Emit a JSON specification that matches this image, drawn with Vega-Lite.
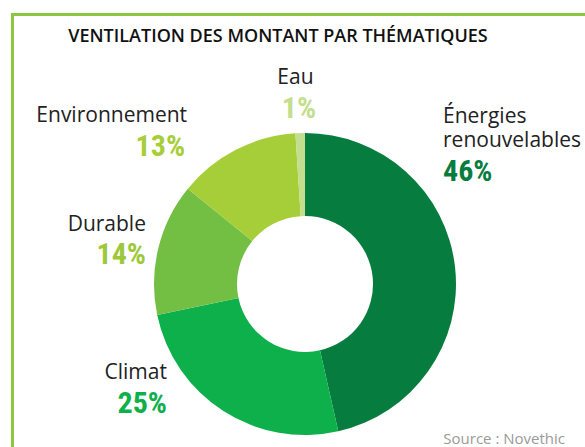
{
  "$schema": "https://vega.github.io/schema/vega-lite/v6.json",
  "width": 560,
  "height": 326,
  "autosize": "none",
  "padding": {"left": 25, "top": 121, "right": 0, "bottom": 0},
  "background": "white",
  "config": {"view": {"stroke": null}},
  "datasets": {
    "themes": [
      {"theme": "Énergies renouvelables", "valeur": 46, "pct": "46%"},
      {"theme": "Climat", "valeur": 25, "pct": "25%"},
      {"theme": "Durable", "valeur": 14, "pct": "14%"},
      {"theme": "Environnement", "valeur": 13, "pct": "13%"},
      {"theme": "Eau", "valeur": 1, "pct": "1%"}
    ]
  },
  "layer": [
    {
      "data": {"values": [{}]},
      "mark": {"type": "rule", "color": "#8dc63f", "strokeWidth": 3},
      "encoding": {"x": {"value": -12.5}, "y": {"value": -106.5}, "y2": {"value": "height"}}
    },
    {
      "data": {"values": [{}]},
      "mark": {"type": "rule", "color": "#8dc63f", "strokeWidth": 3},
      "encoding": {"x": {"value": -14}, "x2": {"value": "width"}, "y": {"value": -106.5}}
    },
    {
      "data": {"values": [{"t": "VENTILATION DES MONTANT PAR THÉMATIQUES"}]},
      "mark": {"type": "text", "align": "center", "baseline": "alphabetic", "font": "Open Sans", "fontSize": 18, "fontWeight": 600, "color": "#111111"},
      "encoding": {"text": {"field": "t", "type": "nominal"}, "x": {"value": 253}, "y": {"value": -79}}
    },
    {
      "data": {"name": "themes"},
      "mark": {"type": "arc", "outerRadius": 151, "innerRadius": 68},
      "encoding": {
        "theta": {"field": "valeur", "type": "quantitative", "stack": true},
        "order": {"field": "valeur", "sort": "descending"},
        "color": {"field": "theme", "type": "nominal", "legend": null,
          "scale": {"domain": ["Énergies renouvelables", "Climat", "Durable", "Environnement", "Eau"],
                    "range": ["#067d3e", "#0db04b", "#72bf44", "#a6ce39", "#c3de8d"]}}
      }
    },
    {
      "data": {"name": "themes"},
      "mark": {"type": "text", "radius": 190, "align": "left", "baseline": "alphabetic", "dx": -50.8, "dy": -139.9, "font": "Open Sans", "fontSize": 21, "color": "#222222", "lineBreak": " ", "lineHeight": 24},
      "encoding": {
        "theta": {"field": "valeur", "type": "quantitative", "stack": true},
        "order": {"field": "valeur", "sort": "descending"},
        "detail": {"field": "theme"},
        "text": {"condition": {"test": "datum.theme === 'Énergies renouvelables'", "field": "theme", "type": "nominal"}, "value": ""}
      }
    },
    {
      "data": {"name": "themes"},
      "mark": {"type": "text", "radius": 190, "align": "left", "baseline": "alphabetic", "dx": -50.8, "dy": -81.9, "font": "Roboto Condensed, DejaVu Sans Condensed, Roboto", "fontSize": 30, "fontWeight": "bold", "color": "#067d3e"},
      "encoding": {
        "theta": {"field": "valeur", "type": "quantitative", "stack": true},
        "order": {"field": "valeur", "sort": "descending"},
        "detail": {"field": "theme"},
        "text": {"condition": {"test": "datum.theme === 'Énergies renouvelables'", "field": "pct", "type": "nominal"}, "value": ""}
      }
    },
    {
      "data": {"name": "themes"},
      "mark": {"type": "text", "radius": 190, "align": "right", "baseline": "alphabetic", "dx": -35.3, "dy": -64.8, "font": "Open Sans", "fontSize": 21, "color": "#222222"},
      "encoding": {
        "theta": {"field": "valeur", "type": "quantitative", "stack": true},
        "order": {"field": "valeur", "sort": "descending"},
        "detail": {"field": "theme"},
        "text": {"condition": {"test": "datum.theme === 'Climat'", "field": "theme", "type": "nominal"}, "value": ""}
      }
    },
    {
      "data": {"name": "themes"},
      "mark": {"type": "text", "radius": 190, "align": "right", "baseline": "alphabetic", "dx": -35.3, "dy": -30.8, "font": "Roboto Condensed, DejaVu Sans Condensed, Roboto", "fontSize": 30, "fontWeight": "bold", "color": "#0db04b"},
      "encoding": {
        "theta": {"field": "valeur", "type": "quantitative", "stack": true},
        "order": {"field": "valeur", "sort": "descending"},
        "detail": {"field": "theme"},
        "text": {"condition": {"test": "datum.theme === 'Climat'", "field": "pct", "type": "nominal"}, "value": ""}
      }
    },
    {
      "data": {"name": "themes"},
      "mark": {"type": "text", "radius": 190, "align": "right", "baseline": "alphabetic", "dx": 25.6, "dy": -8.2, "font": "Open Sans", "fontSize": 21, "color": "#222222"},
      "encoding": {
        "theta": {"field": "valeur", "type": "quantitative", "stack": true},
        "order": {"field": "valeur", "sort": "descending"},
        "detail": {"field": "theme"},
        "text": {"condition": {"test": "datum.theme === 'Durable'", "field": "theme", "type": "nominal"}, "value": ""}
      }
    },
    {
      "data": {"name": "themes"},
      "mark": {"type": "text", "radius": 190, "align": "right", "baseline": "alphabetic", "dx": 25.6, "dy": 24.8, "font": "Roboto Condensed, DejaVu Sans Condensed, Roboto", "fontSize": 30, "fontWeight": "bold", "color": "#9cc93b"},
      "encoding": {
        "theta": {"field": "valeur", "type": "quantitative", "stack": true},
        "order": {"field": "valeur", "sort": "descending"},
        "detail": {"field": "theme"},
        "text": {"condition": {"test": "datum.theme === 'Durable'", "field": "pct", "type": "nominal"}, "value": ""}
      }
    },
    {
      "data": {"name": "themes"},
      "mark": {"type": "text", "radius": 190, "align": "right", "baseline": "alphabetic", "dx": -30.9, "dy": 6.9, "font": "Open Sans", "fontSize": 21, "color": "#222222"},
      "encoding": {
        "theta": {"field": "valeur", "type": "quantitative", "stack": true},
        "order": {"field": "valeur", "sort": "descending"},
        "detail": {"field": "theme"},
        "text": {"condition": {"test": "datum.theme === 'Environnement'", "field": "theme", "type": "nominal"}, "value": ""}
      }
    },
    {
      "data": {"name": "themes"},
      "mark": {"type": "text", "radius": 190, "align": "right", "baseline": "alphabetic", "dx": -32.9, "dy": 40.9, "font": "Roboto Condensed, DejaVu Sans Condensed, Roboto", "fontSize": 30, "fontWeight": "bold", "color": "#a6ce39"},
      "encoding": {
        "theta": {"field": "valeur", "type": "quantitative", "stack": true},
        "order": {"field": "valeur", "sort": "descending"},
        "detail": {"field": "theme"},
        "text": {"condition": {"test": "datum.theme === 'Environnement'", "field": "pct", "type": "nominal"}, "value": ""}
      }
    },
    {
      "data": {"name": "themes"},
      "mark": {"type": "text", "radius": 190, "align": "center", "baseline": "alphabetic", "dx": -3.5, "dy": -10.1, "font": "Open Sans", "fontSize": 21, "color": "#222222"},
      "encoding": {
        "theta": {"field": "valeur", "type": "quantitative", "stack": true},
        "order": {"field": "valeur", "sort": "descending"},
        "detail": {"field": "theme"},
        "text": {"condition": {"test": "datum.theme === 'Eau'", "field": "theme", "type": "nominal"}, "value": ""}
      }
    },
    {
      "data": {"name": "themes"},
      "mark": {"type": "text", "radius": 190, "align": "center", "baseline": "alphabetic", "dx": 0, "dy": 23.9, "font": "Roboto Condensed, DejaVu Sans Condensed, Roboto", "fontSize": 30, "fontWeight": "bold", "color": "#c3de8d"},
      "encoding": {
        "theta": {"field": "valeur", "type": "quantitative", "stack": true},
        "order": {"field": "valeur", "sort": "descending"},
        "detail": {"field": "theme"},
        "text": {"condition": {"test": "datum.theme === 'Eau'", "field": "pct", "type": "nominal"}, "value": ""}
      }
    },
    {
      "data": {"values": [{"s": "Source : Novethic"}]},
      "mark": {"type": "text", "align": "right", "baseline": "alphabetic", "dx": -20, "dy": -3, "font": "Open Sans", "fontSize": 15, "color": "#9a9a9a"},
      "encoding": {"text": {"field": "s", "type": "nominal"}, "x": {"value": "width"}, "y": {"value": "height"}}
    }
  ]
}
